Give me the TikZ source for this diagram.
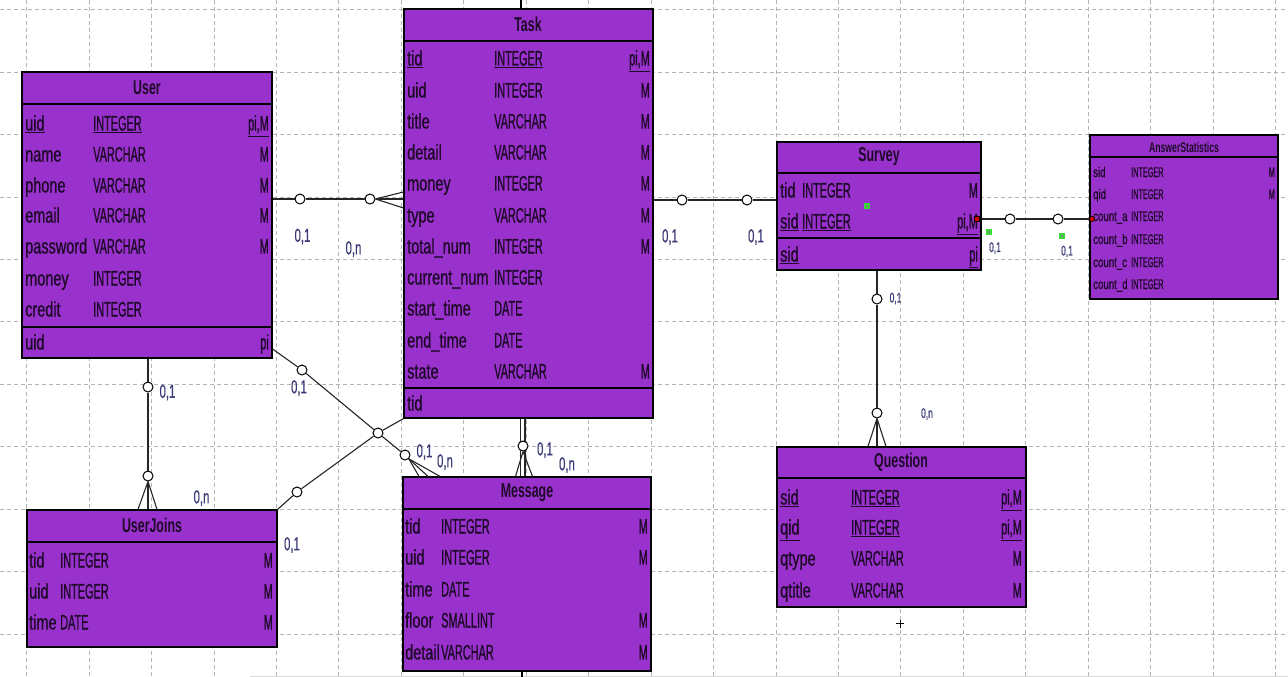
\documentclass[tikz,border=0pt]{standalone}
\usepackage{fontspec}
\setmainfont{Liberation Sans}
\newfontfamily\ERfnm{Liberation Sans}[FakeStretch=0.69,FakeBold=0.8]
\newfontfamily\ERftp{Liberation Sans}[FakeStretch=0.52,FakeBold=0.8]
\newfontfamily\ERfti{Liberation Sans}[FakeStretch=0.62]
\newfontfamily\ERflb{Liberation Sans}[FakeStretch=0.6,FakeBold=0.5]
\definecolor{tblfill}{HTML}{9932CC}
\definecolor{txtc}{HTML}{1E0A28}
\definecolor{lbc}{HTML}{3C3C78}
\definecolor{gridc}{HTML}{B4B4B4}
\definecolor{handle}{HTML}{33DD33}
\tikzset{
  tblbox/.style={draw=black, line width=1.2pt, fill=tblfill, inner sep=0pt},
  tline/.style={draw=black, line width=1.2pt},
  nm/.style={inner sep=0pt, text=txtc, font=\ERfnm\fontsize{21}{21}\selectfont},
  tp/.style={inner sep=0pt, text=txtc, font=\ERftp\fontsize{21}{21}\selectfont},
  ttl/.style={inner sep=0pt, text=txtc, font=\ERfti\bfseries\fontsize{20}{20}\selectfont},
  nms/.style={inner sep=0pt, text=txtc, font=\ERfnm\fontsize{14}{14}\selectfont},
  tps/.style={inner sep=0pt, text=txtc, font=\ERftp\fontsize{14}{14}\selectfont},
  ttls/.style={inner sep=0pt, text=txtc, font=\ERfti\bfseries\fontsize{14}{14}\selectfont},
  lbl/.style={inner sep=0pt, text=lbc, font=\ERflb\fontsize{19}{19}\selectfont},
  lbls/.style={inner sep=0pt, text=lbc, font=\ERflb\fontsize{14}{14}\selectfont},
  conn/.style={draw=black!85, line width=1.1pt},
  card/.style={circle, draw=black, fill=white, line width=1pt, minimum size=10pt, inner sep=0pt},
  gridl/.style={draw=gridc, line width=0.9pt, dash pattern=on 4pt off 3pt},
}
\newcommand\ERrow[5]{%
  \node[nm,anchor=base west] (#1n) at (\ERxa,#2+7.5) {#3};
  \node[tp,anchor=base west] (#1t) at (\ERxb,#2+7.5) {#4};
  \node[tp,anchor=base east] (#1f) at (\ERxc,#2+7.5) {#5};}
\newcommand\ERrowS[5]{%
  \node[nms,anchor=base west] (#1n) at (\ERxa,#2+5) {#3};
  \node[tps,anchor=base west] (#1t) at (\ERxb,#2+5) {#4};
  \node[tps,anchor=base east] (#1f) at (\ERxc,#2+5) {#5};}
\begin{document}
\begin{tikzpicture}[x=1pt,y=-1pt]
\useasboundingbox (0,0) rectangle (1288,677);
\fill[white] (0,0) rectangle (1288,677);
% grid
\foreach \i in {0,...,20} \draw[gridl] (26.6+62.45*\i,0) -- (26.6+62.45*\i,677);
\foreach \j in {0,...,10} \draw[gridl] (0,9.6+62.45*\j) -- (1288,9.6+62.45*\j);
\draw[black!15, line width=1pt] (250,676) -- (1288,676);

% ---------- User ----------
\node[tblbox, minimum width=250pt, minimum height=286pt] (user) at (147,215) {};
\draw[tline] (user.west |- 0,104) -- (user.east |- 0,104);
\draw[tline] (user.west |- 0,327) -- (user.east |- 0,327);
\node[ttl] (usertitle) at (147,88) {User};
\def\ERxa{25}\def\ERxb{93}\def\ERxc{269}
\ERrow{u1}{123}{\underline{uid}}{\underline{INTEGER}}{\underline{pi,M}}
\ERrow{u2}{154}{name}{VARCHAR}{M}
\ERrow{u3}{185}{phone}{VARCHAR}{M}
\ERrow{u4}{215}{email}{VARCHAR}{M}
\ERrow{u5}{246}{password}{VARCHAR}{M}
\ERrow{u6}{278}{money}{INTEGER}{}
\ERrow{u7}{309}{credit}{INTEGER}{}
\ERrow{u8}{342}{uid}{}{pi}

% ---------- Task ----------
\node[tblbox, minimum width=249pt, minimum height=409pt] (task) at (528.5,213.5) {};
\draw[tline] (task.west |- 0,41) -- (task.east |- 0,41);
\draw[tline] (task.west |- 0,388) -- (task.east |- 0,388);
\node[ttl] (tasktitle) at (528,24) {Task};
\def\ERxa{407}\def\ERxb{494}\def\ERxc{650}
\ERrow{t1}{58}{\underline{tid}}{\underline{INTEGER}}{\underline{pi,M}}
\ERrow{t2}{90}{uid}{INTEGER}{M}
\ERrow{t3}{121}{title}{VARCHAR}{M}
\ERrow{t4}{152}{detail}{VARCHAR}{M}
\ERrow{t5}{183}{money}{INTEGER}{M}
\ERrow{t6}{215}{type}{VARCHAR}{M}
\ERrow{t7}{246}{total\_num}{INTEGER}{M}
\ERrow{t8}{277}{current\_num}{INTEGER}{}
\ERrow{t9}{308}{start\_time}{DATE}{}
\ERrow{t10}{340}{end\_time}{DATE}{}
\ERrow{t11}{371}{state}{VARCHAR}{M}
\ERrow{t12}{403}{tid}{}{}

% ---------- Survey ----------
\node[tblbox, minimum width=204pt, minimum height=128pt] (survey) at (879,206) {};
\draw[tline] (survey.west |- 0,173) -- (survey.east |- 0,173);
\draw[tline] (survey.west |- 0,238) -- (survey.east |- 0,238);
\node[ttl] (surveytitle) at (879,157) {Survey};
\def\ERxa{780}\def\ERxb{802}\def\ERxc{978}
\ERrow{s1}{190}{tid}{INTEGER}{M}
\ERrow{s2}{221}{\underline{sid}}{\underline{INTEGER}}{\underline{pi,M}}
\ERrow{s3}{254}{\underline{sid}}{}{\underline{pi}}

% ---------- AnswerStatistics ----------
\node[tblbox, minimum width=188pt, minimum height=164pt] (astat) at (1184,217) {};
\draw[tline] (astat.west |- 0,157) -- (astat.east |- 0,157);
\node[ttls] (astattitle) at (1184,147) {AnswerStatistics};
\def\ERxa{1093}\def\ERxb{1131}\def\ERxc{1275}
\ERrowS{a1}{172}{sid}{INTEGER}{M}
\ERrowS{a2}{194}{qid}{INTEGER}{M}
\ERrowS{a3}{216}{count\_a}{INTEGER}{}
\ERrowS{a4}{239}{count\_b}{INTEGER}{}
\ERrowS{a5}{262}{count\_c}{INTEGER}{}
\ERrowS{a6}{284}{count\_d}{INTEGER}{}

% ---------- Question ----------
\node[tblbox, minimum width=249pt, minimum height=160pt] (question) at (901.5,527) {};
\draw[tline] (question.west |- 0,478) -- (question.east |- 0,478);
\node[ttl] (questiontitle) at (901,462) {Question};
\def\ERxa{780}\def\ERxb{851}\def\ERxc{1022}
\ERrow{q1}{497}{\underline{sid}}{\underline{INTEGER}}{\underline{pi,M}}
\ERrow{q2}{527}{\underline{qid}}{\underline{INTEGER}}{\underline{pi,M}}
\ERrow{q3}{558}{qtype}{VARCHAR}{M}
\ERrow{q4}{590}{qtitle}{VARCHAR}{M}

% ---------- UserJoins ----------
\node[tblbox, minimum width=250pt, minimum height=137pt] (ujoin) at (152,578.5) {};
\draw[tline] (ujoin.west |- 0,542) -- (ujoin.east |- 0,542);
\node[ttl] (ujointitle) at (152,525) {UserJoins};
\def\ERxa{29}\def\ERxb{60}\def\ERxc{273}
\ERrow{j1}{560}{tid}{INTEGER}{M}
\ERrow{j2}{591}{uid}{INTEGER}{M}
\ERrow{j3}{622}{time}{DATE}{M}

% ---------- Message ----------
\node[tblbox, minimum width=248pt, minimum height=194pt] (message) at (527,574) {};
\draw[tline] (message.west |- 0,509) -- (message.east |- 0,509);
\node[ttl] (messagetitle) at (527,493) {Message};
\def\ERxa{405}\def\ERxb{441}\def\ERxc{648}
\ERrow{m1}{526}{tid}{INTEGER}{M}
\ERrow{m2}{557}{uid}{INTEGER}{M}
\ERrow{m3}{589}{time}{DATE}{}
\ERrow{m4}{620}{floor}{SMALLINT}{M}
\ERrow{m5}{652}{detail}{VARCHAR}{M}

% ---------- connectors ----------
% Task top / Message bottom stubs
\coordinate (topend) at (520.5,0);
\coordinate (botend) at (522,677);
\draw[black, line width=2pt] (task.north -| topend) -- (topend);
\draw[black, line width=2pt] (message.south -| botend) -- (botend);

% Task -- Message (double line)
\draw[conn] (task.south -| 520.5,0) -- (message.north -| 520.5,0);
\draw[conn] (task.south -| 525,0) -- (message.north -| 525,0);
\node[card] (c15) at (523,446) {};
\draw[conn] (c15.south) -- (message.north -| 515.5,0);
\draw[conn] (c15.south) -- (message.north -| 532.5,0);
\node[lbl] (l15) at (545,450) {0,1};
\node[lbl] (l16) at (567,465) {0,n};

% User -- Task
\node[card] (c1) at (300,199) {};
\node[card] (c2) at (370,199) {};
\draw[conn] (user.east |- c1) -- (c1) -- (c2) -- (task.west |- c2);
\draw[conn] (c2.east) -- (task.west |- 0,192);
\draw[conn] (c2.east) -- (task.west |- 0,208);
\node[lbl] (l1) at (302.5,236.5) {0,1};
\node[lbl] (l2) at (353.5,249) {0,n};

% Task -- Survey
\node[card] (c3) at (682,200) {};
\node[card] (c4) at (747,200) {};
\draw[conn] (task.east |- c3) -- (c3) -- (c4) -- (survey.west |- c4);
\node[lbl] (l3) at (670,237) {0,1};
\node[lbl] (l4) at (756,237) {0,1};

% Survey -- AnswerStatistics
\node[card] (c5) at (1010,219) {};
\node[card] (c6) at (1058,219) {};
\draw[conn] (survey.east |- c5) -- (c5) -- (c6) -- (astat.west |- c6);
\node[lbls] (l5) at (995,248) {0,1};
\node[lbls] (l6) at (1067,251.5) {0,1};
\draw[black, fill=red!85!black, line width=0.6pt] (974.5,216.5) rectangle (979.5,221.5);
\draw[black, fill=red!85!black, line width=0.6pt] (1092,219) circle (2.6);
\fill[handle] (864,203) rectangle (870,209);
\fill[handle] (986,229) rectangle (992,235);
\fill[handle] (1059,233) rectangle (1065,239);
\fill[black!50] (866,205) rectangle (868,207);
\fill[black!50] (988,231) rectangle (990,233);
\fill[black!50] (1061,235) rectangle (1063,237);

% Survey -- Question
\node[card] (c7) at (877,299) {};
\node[card] (c8) at (877,413) {};
\draw[conn] (c7 |- survey.south) -- (c7) -- (c8) -- (c8 |- question.north);
\draw[conn] (c8.south) -- (question.north -| 868,0);
\draw[conn] (c8.south) -- (question.north -| 886,0);
\node[lbls] (l7) at (895.5,298.5) {0,1};
\node[lbls] (l8) at (927,414) {0,n};
\draw[black, line width=1pt] (896,623.5) -- (904,623.5);
\draw[black, line width=1pt] (900,619.5) -- (900,627.5);

% User -- UserJoins
\node[card] (c9) at (148,387) {};
\node[card] (c10) at (148,476) {};
\draw[conn] (c9 |- user.south) -- (c9) -- (c10) -- (c10 |- ujoin.north);
\draw[conn] (c10.south) -- (ujoin.north -| 138,0);
\draw[conn] (c10.south) -- (ujoin.north -| 157,0);
\node[lbl] (l9) at (167.5,392.5) {0,1};
\node[lbl] (l10) at (201.5,498) {0,n};

% UserJoins -- Task and User -- Message (crossing)
\node[card] (c11) at (297,492) {};
\node[card] (c12) at (378,433) {};
\node[card] (c13) at (302,370) {};
\node[card] (c14) at (405,455) {};
\draw[conn] (ujoin.north east) -- (c11) -- (c12) -- (task.south west);
\draw[conn] (user.east |- 0,349) -- (c13) -- (c12) -- (c14);
\draw[conn] (c14.south east) -- (message.north -| 419,0);
\draw[conn] (c14.south east) -- (message.north -| 428,0);
\draw[conn] (c14.south east) -- (message.north -| 440,0);
\node[lbl] (l11) at (292,545) {0,1};
\node[lbl] (l12) at (299,388) {0,1};
\node[lbl] (l13) at (424.5,452) {0,1};
\node[lbl] (l14) at (445,462) {0,n};
\end{tikzpicture}
\end{document}
